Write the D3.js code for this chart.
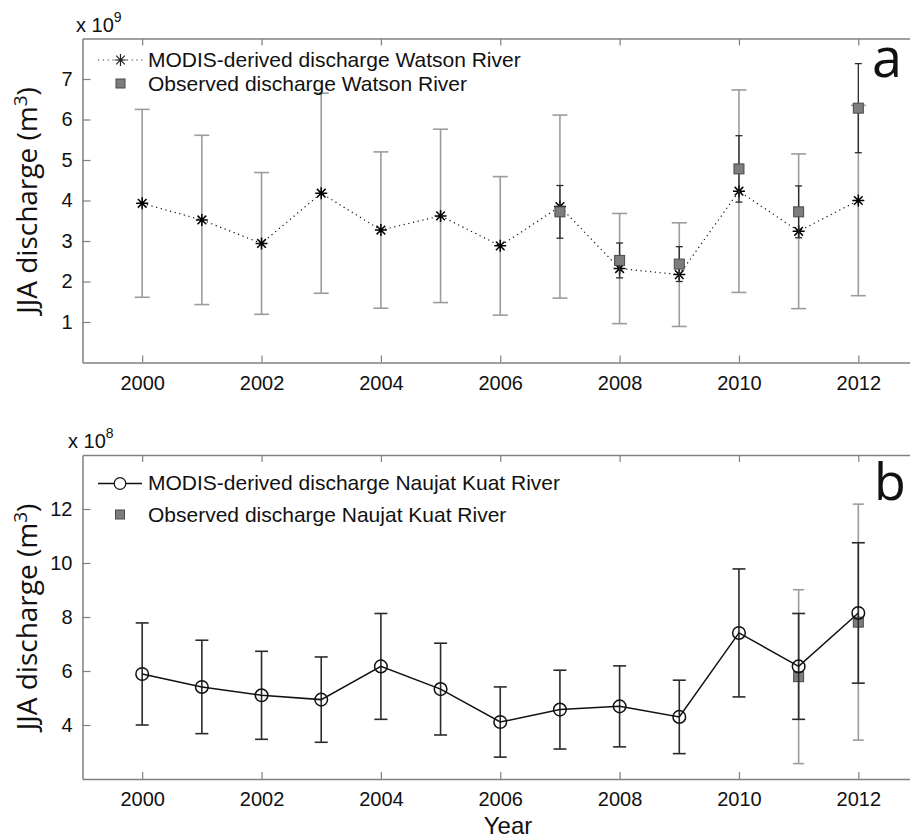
<!DOCTYPE html>
<html>
<head>
<meta charset="utf-8">
<script src="https://cdn.jsdelivr.net/npm/d3@7"></script>
<style>
  body { margin: 0; background: #fff; }
  svg { display: block; }
  text { font-family: "Liberation Sans", Arial, sans-serif; fill: #111; }
</style>
</head>
<body>
<div id="chart"></div>
<script>
// values are in units of 1e9 m3 (panel a) and 1e8 m3 (panel b)
var years = [2000, 2001, 2002, 2003, 2004, 2005, 2006, 2007, 2008, 2009, 2010, 2011, 2012];
var xTicks = [2000, 2002, 2004, 2006, 2008, 2010, 2012];

var watsonModis    = [3.93, 3.52, 2.94, 4.18, 3.27, 3.62, 2.88, 3.85, 2.32, 2.17, 4.23, 3.24, 4.00];
var watsonModisErr = [2.32, 2.09, 1.75, 2.47, 1.93, 2.14, 1.71, 2.26, 1.36, 1.28, 2.50, 1.91, 2.35];
var watsonObsYears = [2007, 2008, 2009, 2010, 2011, 2012];
var watsonObs      = [3.72, 2.52, 2.43, 4.78, 3.72, 6.28];
var watsonObsErr   = [0.65, 0.43, 0.43, 0.82, 0.64, 1.10];
var yTicksA = [1, 2, 3, 4, 5, 6, 7];

var naujatModis    = [5.89, 5.41, 5.10, 4.94, 6.17, 5.33, 4.11, 4.57, 4.69, 4.30, 7.41, 6.17, 8.15];
var naujatModisErr = [1.89, 1.73, 1.63, 1.58, 1.96, 1.70, 1.30, 1.46, 1.50, 1.36, 2.37, 1.96, 2.60];
var naujatObsYears = [2011, 2012];
var naujatObs      = [5.79, 7.81];
var naujatObsErr   = [3.22, 4.37];
var yTicksB = [4, 6, 8, 10, 12];

var width = 910, height = 840;
var light = "#9c9c9c", dark = "#2b2b2b", axisCol = "#808080";

var svg = d3.select("#chart").append("svg")
  .attr("width", width)
  .attr("height", height);

var x = d3.scaleLinear().domain([1999, 2013]).range([82.5, 918]);

function asterisk(cx, cy, r) {
  var d = r * 0.72;
  return "M" + (cx - r) + "," + cy + "H" + (cx + r) +
    "M" + cx + "," + (cy - r) + "V" + (cy + r) +
    "M" + (cx - d) + "," + (cy - d) + "L" + (cx + d) + "," + (cy + d) +
    "M" + (cx - d) + "," + (cy + d) + "L" + (cx + d) + "," + (cy - d);
}

function errorBars(g, xs, ys, errs, y, color, capHalf, sw) {
  var eb = g.append("g").selectAll("g")
    .data(xs.map(function(v, i) { return { x: v, y: ys[i], e: errs[i] }; }))
    .enter().append("g")
    .attr("stroke", color)
    .attr("stroke-width", sw)
    .attr("fill", "none");
  eb.append("line")
    .attr("x1", function(d) { return x(d.x); })
    .attr("x2", function(d) { return x(d.x); })
    .attr("y1", function(d) { return y(d.y - d.e); })
    .attr("y2", function(d) { return y(d.y + d.e); });
  [-1, 1].forEach(function(s) {
    eb.append("line")
      .attr("x1", function(d) { return x(d.x) - capHalf; })
      .attr("x2", function(d) { return x(d.x) + capHalf; })
      .attr("y1", function(d) { return y(d.y + s * d.e); })
      .attr("y2", function(d) { return y(d.y + s * d.e); });
  });
}

function squares(g, xs, ys, y, size) {
  g.append("g").selectAll("rect")
    .data(xs.map(function(v, i) { return [v, ys[i]]; }))
    .enter().append("rect")
    .attr("x", function(d) { return x(d[0]) - size / 2; })
    .attr("y", function(d) { return y(d[1]) - size / 2; })
    .attr("width", size)
    .attr("height", size)
    .attr("fill", "#7d7d7d")
    .attr("stroke", "#4a4a4a")
    .attr("stroke-width", 1);
}

function frame(y, ticks, top, bottom) {
  var g = svg.append("g");
  g.append("g")
    .attr("transform", "translate(0," + bottom + ")")
    .call(d3.axisBottom(x).tickValues(xTicks).tickFormat(d3.format("d"))
      .tickSizeInner(-7).tickSizeOuter(0).tickPadding(13));
  g.append("g")
    .attr("transform", "translate(0," + top + ")")
    .call(d3.axisTop(x).tickValues(xTicks).tickFormat("")
      .tickSizeInner(-7).tickSizeOuter(0));
  g.append("g")
    .attr("transform", "translate(" + x.range()[0] + ",0)")
    .call(d3.axisLeft(y).tickValues(ticks)
      .tickSizeInner(-8).tickSizeOuter(0).tickPadding(10));
  g.append("g")
    .attr("transform", "translate(" + x.range()[1] + ",0)")
    .call(d3.axisRight(y).tickValues(ticks).tickFormat("")
      .tickSizeInner(-8).tickSizeOuter(0));
  g.selectAll(".domain").attr("stroke", axisCol).attr("stroke-width", 1.5);
  g.selectAll(".tick line").attr("stroke", axisCol).attr("stroke-width", 1.2);
  g.selectAll(".tick text").attr("font-size", 20).attr("fill", "#111")
    .attr("font-family", "Liberation Sans, Arial, sans-serif");
  return g;
}

function yLabel(cy) {
  var t = svg.append("text")
    .attr("transform", "translate(37," + cy + ") rotate(-90)")
    .attr("text-anchor", "middle")
    .style("font-family", "'Open Sans', sans-serif")
    .attr("font-size", 28);
  t.append("tspan").text("JJA discharge (m");
  t.append("tspan").attr("dy", -10).attr("font-size", 19).text("3");
  t.append("tspan").attr("dy", 10).text(")");
}

function exponent(xPos, yPos, p) {
  var t = svg.append("text").attr("x", xPos).attr("y", yPos).attr("font-size", 20);
  t.append("tspan").text("x 10");
  t.append("tspan").attr("dy", -10).attr("font-size", 14).text(p);
}

// ---------- panel a : Watson River ----------
var yA = d3.scaleLinear().domain([0, 8]).range([362.5, 38.5]);
frame(yA, yTicksA, 38.5, 362.5);
var pa = svg.append("g");

errorBars(pa, years, watsonModis, watsonModisErr, yA, light, 7.5, 1.6);

pa.append("path")
  .datum(years.map(function(v, i) { return [v, watsonModis[i]]; }))
  .attr("fill", "none")
  .attr("stroke", "#111")
  .attr("stroke-width", 1.2)
  .attr("stroke-dasharray", "1.2,3.6")
  .attr("d", d3.line().x(function(d) { return x(d[0]); }).y(function(d) { return yA(d[1]); }));

pa.append("g").selectAll("path")
  .data(years.map(function(v, i) { return [v, watsonModis[i]]; }))
  .enter().append("path")
  .attr("d", function(d) { return asterisk(x(d[0]), yA(d[1]), 6); })
  .attr("stroke", "#000")
  .attr("stroke-width", 1.5)
  .attr("fill", "none");

errorBars(pa, watsonObsYears, watsonObs, watsonObsErr, yA, dark, 3.5, 1.3);
squares(pa, watsonObsYears, watsonObs, yA, 10);

// legend a
var la = svg.append("g");
la.append("line").attr("x1", 98).attr("x2", 143).attr("y1", 60).attr("y2", 60)
  .attr("stroke", "#333").attr("stroke-width", 1.1).attr("stroke-dasharray", "1.2,3.6");
la.append("path").attr("d", asterisk(120.5, 60, 6)).attr("stroke", "#222")
  .attr("stroke-width", 1.2).attr("fill", "none");
la.append("rect").attr("x", 116).attr("y", 79).attr("width", 9).attr("height", 9)
  .attr("fill", "#7d7d7d").attr("stroke", "#4a4a4a");
la.append("text").attr("x", 148).attr("y", 67).attr("font-size", 21)
  .text("MODIS-derived discharge Watson River");
la.append("text").attr("x", 148).attr("y", 91).attr("font-size", 21)
  .text("Observed discharge Watson River");

exponent(76, 32, "9");
yLabel(200.5);
svg.append("text").attr("x", 872).attr("y", 77)
  .style("font-family", "'Open Sans', sans-serif").attr("font-size", 54).text("a");

// ---------- panel b : Naujat Kuat River ----------
var yB = d3.scaleLinear().domain([2, 14]).range([779, 455]);
frame(yB, yTicksB, 455, 779);
var pb = svg.append("g");

errorBars(pb, naujatObsYears, naujatObs, naujatObsErr, yB, light, 5.5, 1.6);
squares(pb, naujatObsYears, naujatObs, yB, 10);
errorBars(pb, years, naujatModis, naujatModisErr, yB, dark, 6.5, 1.6);

pb.append("path")
  .datum(years.map(function(v, i) { return [v, naujatModis[i]]; }))
  .attr("fill", "none")
  .attr("stroke", "#111")
  .attr("stroke-width", 1.5)
  .attr("d", d3.line().x(function(d) { return x(d[0]); }).y(function(d) { return yB(d[1]); }));

pb.append("g").selectAll("circle")
  .data(years.map(function(v, i) { return [v, naujatModis[i]]; }))
  .enter().append("circle")
  .attr("cx", function(d) { return x(d[0]); })
  .attr("cy", function(d) { return yB(d[1]); })
  .attr("r", 6.3)
  .attr("fill", "none")
  .attr("stroke", "#111")
  .attr("stroke-width", 1.5);

// legend b
var lb = svg.append("g");
lb.append("line").attr("x1", 98).attr("x2", 142).attr("y1", 483.5).attr("y2", 483.5)
  .attr("stroke", "#111").attr("stroke-width", 1.4);
lb.append("circle").attr("cx", 120).attr("cy", 483.5).attr("r", 5.8)
  .attr("fill", "#fff").attr("stroke", "#111").attr("stroke-width", 1.2);
lb.append("rect").attr("x", 115.5).attr("y", 510).attr("width", 9).attr("height", 9)
  .attr("fill", "#7d7d7d").attr("stroke", "#4a4a4a");
lb.append("text").attr("x", 148).attr("y", 490).attr("font-size", 21)
  .text("MODIS-derived discharge Naujat Kuat River");
lb.append("text").attr("x", 148).attr("y", 522).attr("font-size", 21)
  .text("Observed discharge Naujat Kuat River");

exponent(68, 448, "8");
yLabel(617);
svg.append("text").attr("x", 508).attr("y", 834).attr("text-anchor", "middle")
  .attr("font-size", 24).text("Year");
svg.append("text").attr("x", 874).attr("y", 500)
  .style("font-family", "'Open Sans', sans-serif").attr("font-size", 52).text("b");
</script>
</body>
</html>
